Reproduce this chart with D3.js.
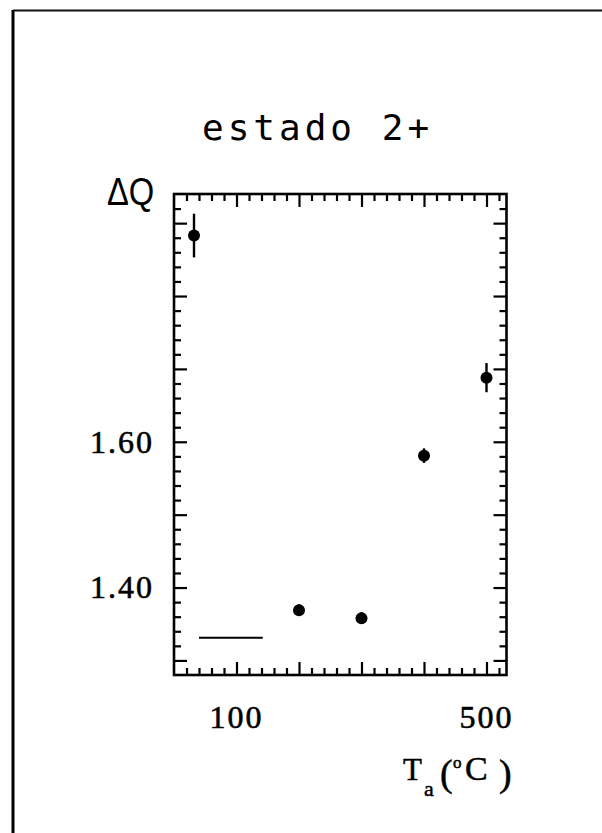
<!DOCTYPE html>
<html>
<head>
<meta charset="utf-8">
<script src="https://cdn.jsdelivr.net/npm/d3@7"></script>
<style>
  html, body { margin: 0; padding: 0; background: #fff; }
  svg { display: block; }
</style>
</head>
<body>
<script>
// Annealing temperature (°C) and quadrupole splitting ΔQ for the 2+ state
const temps  = [32, 200, 300, 400, 500];
const dq     = [1.883, 1.369, 1.358, 1.581, 1.688];
const dqErr  = [0.030, 0.008, 0.008, 0.010, 0.020];

// Reference level drawn as a short horizontal segment
const refT  = [40, 142];
const refDQ = 1.331;

// Axis ticks and labels
const xMajor = [100, 200, 300, 400, 500];
const xLabelValues = [100, 500];
const xLabelText = ["100", "500"];
const yMajor = [1.3, 1.4, 1.5, 1.6, 1.7, 1.8, 1.9];
const yLabelValues = [1.4, 1.6];
const yLabelText = ["1.40", "1.60"];

const W = 602, H = 833;
const svg = d3.select("body").append("svg").attr("width", W).attr("height", H);
svg.append("rect").attr("width", W).attr("height", H).attr("fill", "#fff");

// page frame (left and top edges)
svg.append("line").attr("x1", 13).attr("x2", 13).attr("y1", 10).attr("y2", H)
  .attr("stroke", "#000").attr("stroke-width", 3);
svg.append("line").attr("x1", 13).attr("x2", W).attr("y1", 10.5).attr("y2", 10.5)
  .attr("stroke", "#111").attr("stroke-width", 2);

const plotL = 174, plotR = 506.5, plotT = 194, plotB = 675;
const x = d3.scaleLinear().domain([0, 532]).range([plotL, plotR]);
const y = d3.scaleLinear().domain([1.28, 1.94]).range([plotB, plotT]);

const xMinor = d3.range(20, 532, 20).filter(v => v % 100 !== 0);
const yMinor = d3.range(130, 194, 2).map(v => v / 100).filter(v => Math.round(v * 100) % 10 !== 0);

function tickAxis(axisFn, scale, values, size, transform) {
  const g = svg.append("g").attr("transform", transform)
    .call(axisFn(scale).tickValues(values).tickSize(-size).tickFormat(""));
  g.select(".domain").remove();
  g.selectAll(".tick line").attr("stroke", "#000").attr("stroke-width", 2.2);
  return g;
}

// ticks on all four sides, pointing inward
[[xMinor, 7], [xMajor, 13]].forEach(([vals, s]) => {
  tickAxis(d3.axisBottom, x, vals, s, `translate(0,${plotB})`);
  tickAxis(d3.axisTop, x, vals, s, `translate(0,${plotT})`);
});
[[yMinor, 7], [yMajor, 13]].forEach(([vals, s]) => {
  tickAxis(d3.axisLeft, y, vals, s, `translate(${plotL},0)`);
  tickAxis(d3.axisRight, y, vals, s, `translate(${plotR},0)`);
});

// plot box
svg.append("rect").attr("x", plotL).attr("y", plotT)
  .attr("width", plotR - plotL).attr("height", plotB - plotT)
  .attr("fill", "none").attr("stroke", "#000").attr("stroke-width", 2.6);

// tick labels
const serif = "'Liberation Serif', 'Times New Roman', serif";
const inkText = (sel) => sel.attr("stroke", "#000").attr("stroke-width", 0.6);
svg.selectAll(".ylab").data(yLabelValues).enter().append("text")
  .attr("x", 154).attr("y", (d) => y(d)).attr("dy", "0.34em")
  .attr("text-anchor", "end").attr("font-family", serif).attr("font-size", 32)
  .attr("letter-spacing", 2)
  .call(inkText)
  .text((d, i) => yLabelText[i]);
svg.selectAll(".xlab").data(xLabelValues).enter().append("text")
  .attr("x", (d) => x(d)).attr("y", 728)
  .attr("text-anchor", "middle").attr("font-family", serif).attr("font-size", 32)
  .attr("letter-spacing", 2)
  .call(inkText)
  .text((d, i) => xLabelText[i]);

// x axis title: T_a(°C)
const xt = svg.append("g").attr("font-family", serif).attr("fill", "#000")
  .attr("stroke", "#000").attr("stroke-width", 0.5);
xt.append("text").attr("x", 403).attr("y", 780).attr("font-size", 31).text("T");
xt.append("text").attr("x", 424).attr("y", 796).attr("font-size", 22).text("a");
xt.append("text").attr("x", 440).attr("y", 786).attr("font-size", 38).text("(");
xt.append("text").attr("x", 453).attr("y", 768).attr("font-size", 17).text("o");
xt.append("text").attr("x", 465).attr("y", 780).attr("font-size", 34).text("C");
xt.append("text").attr("x", 499).attr("y", 786).attr("font-size", 38).text(")");

// y axis title
svg.append("text").attr("transform", "translate(107,205) scale(0.84,1)")
  .attr("font-family", "'Liberation Sans', Arial, sans-serif").attr("font-size", 39)
  .text("ΔQ");

// panel title
svg.append("text").attr("x", 202).attr("y", 140)
  .attr("font-family", "'DejaVu Sans Mono', monospace").attr("font-size", 36)
  .attr("letter-spacing", 4)
  .text("estado 2+");

// reference segment
svg.append("line")
  .attr("x1", x(refT[0])).attr("x2", x(refT[1]))
  .attr("y1", y(refDQ)).attr("y2", y(refDQ))
  .attr("stroke", "#000").attr("stroke-width", 2);

// error bars and points
const pts = temps.map((t, i) => ({ t, v: dq[i], e: dqErr[i] }));
svg.selectAll(".err").data(pts).enter().append("line")
  .attr("x1", (d) => x(d.t)).attr("x2", (d) => x(d.t))
  .attr("y1", (d) => y(d.v - d.e)).attr("y2", (d) => y(d.v + d.e))
  .attr("stroke", "#000").attr("stroke-width", 2.4);
svg.selectAll(".pt").data(pts).enter().append("circle")
  .attr("cx", (d) => x(d.t)).attr("cy", (d) => y(d.v))
  .attr("r", 6).attr("fill", "#000");
</script>
</body>
</html>
